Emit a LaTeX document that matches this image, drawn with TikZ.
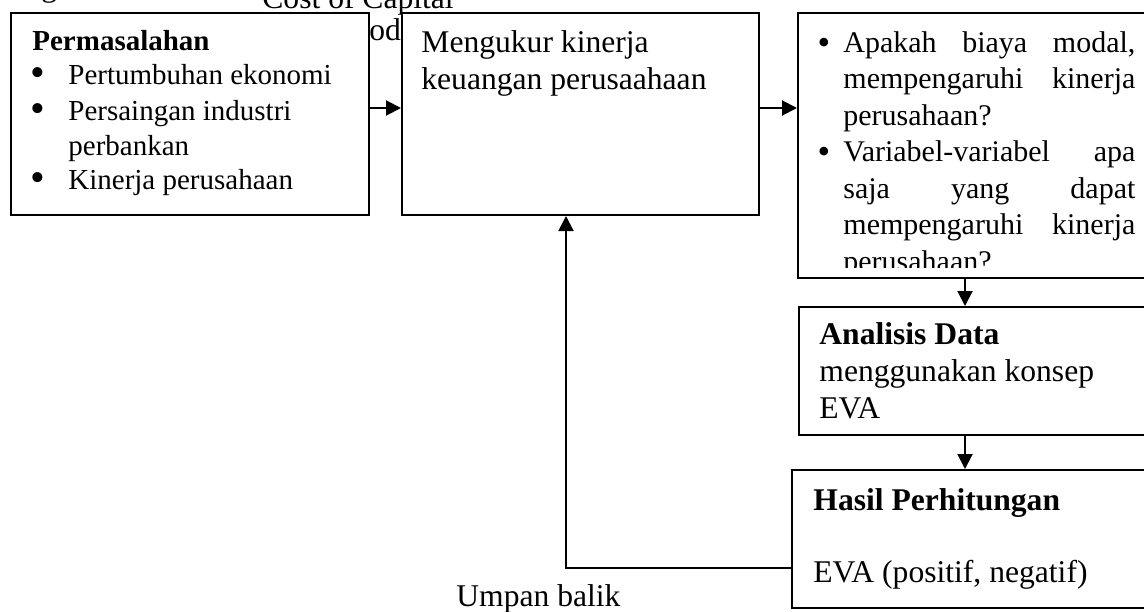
\documentclass[tikz,border=0pt]{standalone}
\usepackage{fontspec}
\setmainfont{Liberation Serif}
\usetikzlibrary{arrows.meta}
\begin{document}
\begin{tikzpicture}[x=0.5pt,y=-0.5pt,
  box/.style={draw,line width=1pt,fill=white,inner sep=0pt,anchor=north west},
  txt/.style={anchor=base west,inner sep=0pt},
  fa/.style={font=\fontsize{14.5pt}{17pt}\selectfont},
  fab/.style={font=\fontsize{14.5pt}{17pt}\selectfont\bfseries},
  fb/.style={font=\fontsize{15.8pt}{18pt}\selectfont},
  fbb/.style={font=\fontsize{15.8pt}{18pt}\selectfont\bfseries},
  fc/.style={font=\fontsize{15pt}{18pt}\selectfont},
  bula/.style={anchor=base,inner sep=0pt,font=\fontsize{21pt}{21pt}\selectfont},
  bulc/.style={anchor=base,inner sep=0pt,font=\fontsize{18pt}{18pt}\selectfont},
  arr/.style={line width=1pt,-{Triangle[length=7.5pt,width=7.5pt]}}]
\clip (0,0) rectangle (1144,611);
\fill[white] (0,0) rectangle (1144,611);

% partly hidden texts
\node[txt,fb] (cost) at (262,8) {Cost of Capital};
\node[txt,fb] (frag) at (41,-4) {g};
\node[txt,fb] (metode) at (318,40) {Metode};

% boxes
\node[box,minimum width=179pt,minimum height=101pt] (p) at (10,12) {};
\node[box,minimum width=178.5pt,minimum height=101pt] (m) at (401,12) {};
\node[box,minimum width=182pt,minimum height=132.5pt] (q) at (797,12) {};
\node[box,minimum width=181pt,minimum height=64pt] (a) at (798,306) {};
\node[box,minimum width=185pt,minimum height=69pt] (h) at (791,469) {};

% box 1
\node[txt,fab] (t1) at (32,50) {Permasalahan};
\node[bula] (b11) at (38,86) {•};
\node[bula] (b12) at (38,122) {•};
\node[bula] (b13) at (38,191) {•};
\node[txt,fa] (t11) at (68,84) {Pertumbuhan ekonomi};
\node[txt,fa] (t12) at (68,120) {Persaingan industri};
\node[txt,fa] (t13) at (68,155) {perbankan};
\node[txt,fa] (t14) at (68,189) {Kinerja perusahaan};

% box 2
\node[txt,fb] (t21) at (421,52) {Mengukur kinerja};
\node[txt,fb] (t22) at (421,89) {keuangan perusaahaan};

% box 3
\begin{scope}
\clip (799,14) rectangle (1144,267);
\node[bulc] (b31) at (824,54) {•};
\node[bulc] (b32) at (824,163.5) {•};
\node[txt,fc] (t31) at (843,52) {\makebox[146pt][s]{Apakah biaya modal,}};
\node[txt,fc] (t32) at (843,88.5) {\makebox[146pt][s]{mempengaruhi kinerja}};
\node[txt,fc] (t33) at (843,125) {perusahaan?};
\node[txt,fc] (t34) at (843,161.5) {\makebox[146pt][s]{Variabel-variabel apa}};
\node[txt,fc] (t35) at (843,198) {\makebox[146pt][s]{saja yang dapat}};
\node[txt,fc] (t36) at (843,234.5) {\makebox[146pt][s]{mempengaruhi kinerja}};
\node[txt,fc] (t37) at (843,271) {perusahaan?};
\end{scope}

% box 4
\node[txt,fbb] (t41) at (819,344) {Analisis Data};
\node[txt,fb] (t42) at (819,381) {menggunakan konsep};
\node[txt,fb] (t43) at (819,418) {EVA};

% box 5
\node[txt,fbb] (t51) at (813,510) {Hasil Perhitungan};
\node[txt,fb] (t52) at (813,582) {EVA (positif, negatif)};

% feedback label
\node[txt,fb] (ub) at (456,606) {Umpan balik};

% connectors
\coordinate (ry) at (0,108);
\coordinate (cx) at (965,0);
\coordinate (fbk) at (566,568);
\draw[arr] (p.east |- ry) -- (m.west |- ry);
\draw[arr] (m.east |- ry) -- (q.west |- ry);
\draw[arr] (q.south -| cx) -- (a.north -| cx);
\draw[arr] (a.south -| cx) -- (h.north -| cx);
\draw[arr] (h.west |- fbk) -| (m.south -| fbk);
\end{tikzpicture}
\end{document}
